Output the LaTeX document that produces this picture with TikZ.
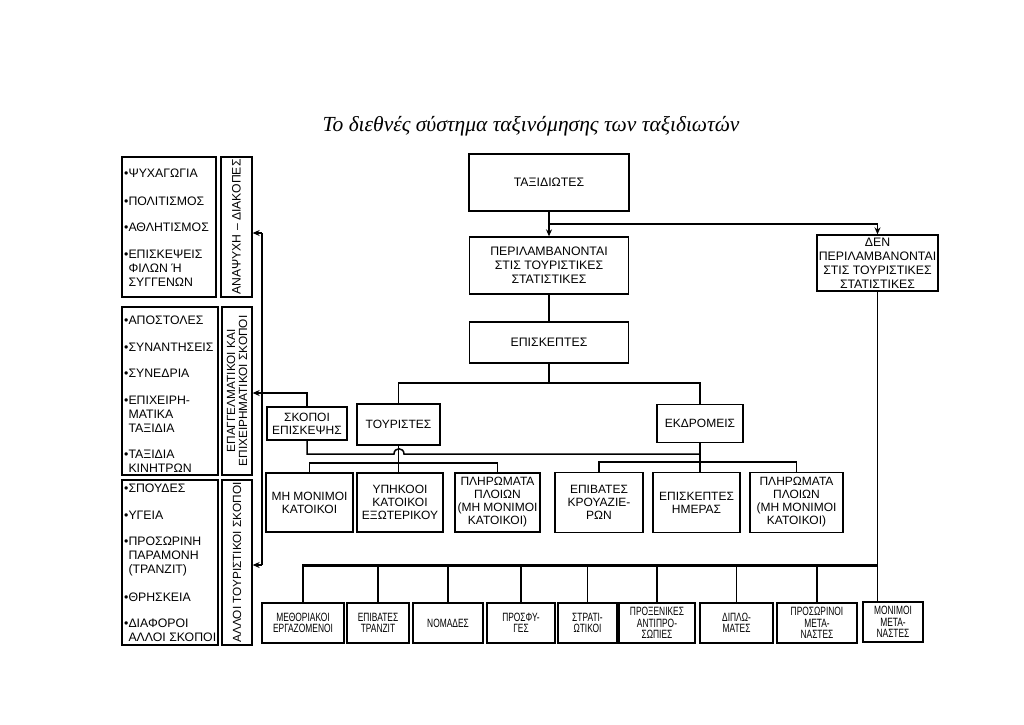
\documentclass[tikz,border=0pt]{standalone}
\usepackage{fontspec}
\setmainfont{Liberation Sans}
\newfontfamily\titlefont{Liberation Serif}
\newfontfamily\narrowfont[FakeStretch=0.7]{Liberation Sans}
\usetikzlibrary{arrows.meta,calc}
\begin{document}
\begin{tikzpicture}[x=1pt,y=-1pt,
  box/.style={draw, line width=1.3pt, inner sep=1pt, align=center, font=\fontsize{12}{13}\selectfont},
  bigbox/.style={box, font=\fontsize{12.3}{14}\selectfont},
  lowbox/.style={box, font=\narrowfont\fontsize{12}{11.5}\selectfont},
  frame/.style={draw, line width=1.3pt, inner sep=0pt},
  listitem/.style={anchor=west, inner sep=0pt, align=left, font=\fontsize{12.3}{14}\selectfont},
  vtext/.style={rotate=90, inner sep=0pt, align=center, font=\fontsize{11.8}{12}\selectfont},
  conn/.style={line width=1.5pt},
  bus/.style={line width=3pt},
  arr/.style={line width=1.5pt, -{Stealth[length=7pt,width=6pt]}},
]
\useasboundingbox (0,0) rectangle (1024,724);
\fill[white] (0,0) rectangle (1024,724);

% title
\node[font=\titlefont\itshape\fontsize{21.5}{24}\selectfont] (title) at (531,126) {Το διεθνές σύστημα ταξινόμησης των ταξιδιωτών};

% left frames
\node[frame, minimum width=94pt, minimum height=140pt] (l1) at (169,227) {};
\node[frame, minimum width=31pt, minimum height=140pt] (v1) at (236.5,227) {};
\node[frame, minimum width=96pt, minimum height=168pt] (l2) at (170,391) {};
\node[frame, minimum width=30pt, minimum height=168pt] (v2) at (237,391) {};
\node[frame, minimum width=96pt, minimum height=165pt] (l3) at (170,562.5) {};
\node[frame, minimum width=30pt, minimum height=165pt] (v3) at (237,562.5) {};

\node[vtext, font=\fontsize{12.2}{12}\selectfont] (t1) at (236.5,227) {ΑΝΑΨΥΧΗ – ΔΙΑΚΟΠΕΣ};
\node[vtext] (t2) at (237,391) {ΕΠΑΓΓΕΛΜΑΤΙΚΟΙ ΚΑΙ\\ΕΠΙΧΕΙΡΗΜΑΤΙΚΟΙ ΣΚΟΠΟΙ};
\node[vtext] (t3) at (237,562.5) {ΑΛΛΟΙ ΤΟΥΡΙΣΤΙΚΟΙ ΣΚΟΠΟΙ};

% list items
\node[listitem] (a1) at (124,173) {•ΨΥΧΑΓΩΓΙΑ};
\node[listitem] (a2) at (124,201) {•ΠΟΛΙΤΙΣΜΟΣ};
\node[listitem] (a3) at (124,227) {•ΑΘΛΗΤΙΣΜΟΣ};
\node[listitem] (a4) at (124,268.5) {•ΕΠΙΣΚΕΨΕΙΣ\\\hphantom{•}ΦΙΛΩΝ Ή\\\hphantom{•}ΣΥΓΓΕΝΩΝ};

\node[listitem] (b1) at (124,320) {•ΑΠΟΣΤΟΛΕΣ};
\node[listitem] (b2) at (124,347) {•ΣΥΝΑΝΤΗΣΕΙΣ};
\node[listitem] (b3) at (124,373) {•ΣΥΝΕΔΡΙΑ};
\node[listitem] (b4) at (124,414) {•ΕΠΙΧΕΙΡΗ-\\\hphantom{•}ΜΑΤΙΚΑ\\\hphantom{•}ΤΑΞΙΔΙΑ};
\node[listitem] (b5) at (124,461.5) {•ΤΑΞΙΔΙΑ\\\hphantom{•}ΚΙΝΗΤΡΩΝ};

\node[listitem] (c1) at (124,488) {•ΣΠΟΥΔΕΣ};
\node[listitem] (c2) at (124,515) {•ΥΓΕΙΑ};
\node[listitem] (c3) at (124,556) {•ΠΡΟΣΩΡΙΝΗ\\\hphantom{•}ΠΑΡΑΜΟΝΗ\\\hphantom{•}(ΤΡΑΝΖΙΤ)};
\node[listitem] (c4) at (124,597) {•ΘΡΗΣΚΕΙΑ};
\node[listitem] (c5) at (124,630) {•ΔΙΑΦΟΡΟΙ\\\hphantom{•}ΑΛΛΟΙ ΣΚΟΠΟΙ};

% main boxes
\node[bigbox, minimum width=160pt, minimum height=57pt] (taxid) at (549,182.5) {ΤΑΞΙΔΙΩΤΕΣ};
\node[bigbox, minimum width=159pt, minimum height=57pt] (peril) at (549,265.5) {ΠΕΡΙΛΑΜΒΑΝΟΝΤΑΙ\\ΣΤΙΣ ΤΟΥΡΙΣΤΙΚΕΣ\\ΣΤΑΤΙΣΤΙΚΕΣ};
\node[bigbox, minimum width=121pt, minimum height=56pt] (den) at (877.5,263) {ΔΕΝ\\ΠΕΡΙΛΑΜΒΑΝΟΝΤΑΙ\\ΣΤΙΣ ΤΟΥΡΙΣΤΙΚΕΣ\\ΣΤΑΤΙΣΤΙΚΕΣ};
\node[bigbox, minimum width=159pt, minimum height=41pt] (episk) at (549,342.5) {ΕΠΙΣΚΕΠΤΕΣ};
\node[box, minimum width=80pt, minimum height=33pt] (skopoi) at (307,423.5) {ΣΚΟΠΟΙ\\ΕΠΙΣΚΕΨΗΣ};
\node[box, minimum width=83pt, minimum height=41pt] (tour) at (398.5,424.5) {ΤΟΥΡΙΣΤΕΣ};
\node[box, minimum width=86pt, minimum height=38pt] (ekdr) at (700,423.5) {ΕΚΔΡΟΜΕΙΣ};

% second row
\node[box, minimum width=87pt, minimum height=59pt] (mh) at (309.5,502.5) {ΜΗ ΜΟΝΙΜΟΙ\\ΚΑΤΟΙΚΟΙ};
\node[box, minimum width=86pt, minimum height=59pt] (yp) at (400,502.5) {ΥΠΗΚΟΟΙ\\ΚΑΤΟΙΚΟΙ\\ΕΞΩΤΕΡΙΚΟΥ};
\node[box, minimum width=85pt, minimum height=59pt] (pl1) at (497.5,502.5) {ΠΛΗΡΩΜΑΤΑ\\ΠΛΟΙΩΝ\\(ΜΗ ΜΟΝΙΜΟΙ\\ΚΑΤΟΙΚΟΙ)};
\node[box, minimum width=88pt, minimum height=60pt] (epib) at (599,502.5) {ΕΠΙΒΑΤΕΣ\\ΚΡΟΥΑΖΙΕ-\\ΡΩΝ};
\node[box, minimum width=87pt, minimum height=60pt] (eh) at (696.5,502.5) {ΕΠΙΣΚΕΠΤΕΣ\\ΗΜΕΡΑΣ};
\node[box, minimum width=93pt, minimum height=60pt] (pl2) at (796.5,502.5) {ΠΛΗΡΩΜΑΤΑ\\ΠΛΟΙΩΝ\\(ΜΗ ΜΟΝΙΜΟΙ\\ΚΑΤΟΙΚΟΙ)};

% bottom row
\node[lowbox, minimum width=82pt, minimum height=40pt] (meth) at (303,623) {ΜΕΘΟΡΙΑΚΟΙ\\ΕΡΓΑΖΟΜΕΝΟΙ};
\node[lowbox, minimum width=62pt, minimum height=40pt] (trans) at (378,623) {ΕΠΙΒΑΤΕΣ\\ΤΡΑΝΖΙΤ};
\node[lowbox, minimum width=70pt, minimum height=40pt] (nom) at (448,623) {ΝΟΜΑΔΕΣ};
\node[lowbox, minimum width=68pt, minimum height=40pt] (prosf) at (521,623) {ΠΡΟΣΦΥ-\\ΓΕΣ};
\node[lowbox, minimum width=59pt, minimum height=40pt] (strat) at (587.5,623) {ΣΤΡΑΤΙ-\\ΩΤΙΚΟΙ};
\node[lowbox, minimum width=76pt, minimum height=40pt] (prox) at (657,623) {ΠΡΟΞΕΝΙΚΕΣ\\ΑΝΤΙΠΡΟ-\\ΣΩΠΙΕΣ};
\node[lowbox, minimum width=73pt, minimum height=40pt] (dipl) at (736.5,623) {ΔΙΠΛΩ-\\ΜΑΤΕΣ};
\node[lowbox, minimum width=80pt, minimum height=40pt] (prosor) at (817,623) {ΠΡΟΣΩΡΙΝΟΙ\\ΜΕΤΑ-\\ΝΑΣΤΕΣ};
\node[lowbox, minimum width=60pt, minimum height=40pt] (mon) at (893,622) {ΜΟΝΙΜΟΙ\\ΜΕΤΑ-\\ΝΑΣΤΕΣ};

% connectors top
\coordinate (tj) at (549,224);
\draw[arr] (taxid.south) -- (peril.north);
\draw[arr] (tj) -| (den.north);
\draw[conn] (peril.south) -- (episk.north);
\coordinate (eb) at (549,383);
\draw[conn] (episk.south) -- (eb);
\draw[conn] (tour.north) -- (tour.north |- eb) -- (ekdr.north |- eb) -- (ekdr.north);

% tourists branch
\coordinate (tb) at (398.5,463);
\draw[conn] (tour.south) -- (tour.south |- yp.north);
\draw[conn] (mh.north) -- (mh.north |- tb) -- (pl1.north |- tb) -- (pl1.north);

% excursionists branch
\coordinate (kb) at (700,462);
\draw[conn] (ekdr.south) -- (ekdr.south |- eh.north);
\draw[conn] (epib.north) -- (epib.north |- kb) -- (pl2.north |- kb) -- (pl2.north);

% purposes line with hop
\coordinate (h1) at (394,454);
\coordinate (h2) at (404,454);
\coordinate (h3) at (700,454);
\draw[conn] (skopoi.south) |- (h1) .. controls (394,447) and (404,447) .. (h2) -- (h3);

% left feedback
\coordinate (lt) at (262,233);
\coordinate (lm) at (262,393);
\coordinate (lb) at (262,565);
\draw[conn] (lt) -- (lb);
\draw[arr] (lt) -- (lt -| v1.east);
\draw[arr] (lb) -- (lb -| v3.east);
\draw[arr] (skopoi.north) |- (lm) -- (lm -| v2.east);

% bottom bus
\coordinate (busL) at (302,565);
\coordinate (busR) at (878,565);
\draw[conn] (den.south) -- (den.south |- mon.north);
\draw[bus] (busL) -- (busR);
\foreach \n in {meth,trans,nom,prosf,strat,prox,dipl,prosor}{
  \draw[conn] (\n.north |- busL) -- (\n.north);
}
\end{tikzpicture}
\end{document}
